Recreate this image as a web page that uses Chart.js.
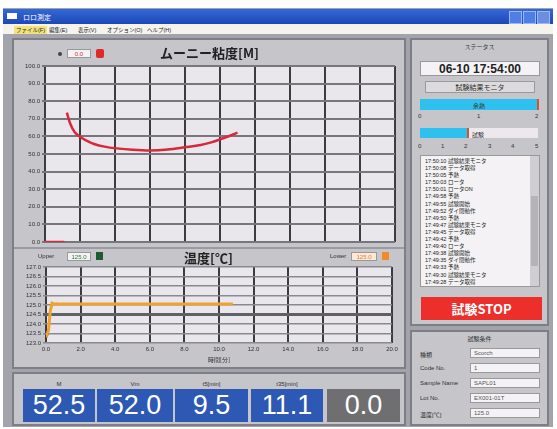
<!DOCTYPE html>
<html>
<head>
<meta charset="utf-8">
<script src="https://cdn.jsdelivr.net/npm/chart.js@4.4.1/dist/chart.umd.min.js"></script>
<style>
  body { margin: 0; width: 557px; height: 429px; background: #fff; position: relative; overflow: hidden;
         font-family: "Liberation Sans", "Noto Sans CJK JP", sans-serif; }
  .abs { position: absolute; }
  #win { left: 3px; top: 8px; width: 550px; height: 419px; background: #a3a4ab; }
  #titlebar { left: 0; top: 1px; width: 550px; height: 15px; background: linear-gradient(#3468d8, #1d48b6); }
  #titlebar .t { left: 20px; top: 3px; color: #fff; font-size: 7px; }
  #menubar { left: 0; top: 16px; width: 550px; height: 10px; background: #f4f3ee; font-size: 5.5px; color: #222; }
  #menubar span { position: absolute; top: 2px; }
  .panel { background: #c5c5ca; border: 2px solid #7d7e86; box-sizing: border-box; }
  .hdr { left: 0; width: 100%; text-align: center; font-size: 6px; color: #333; }
  .box { background: #f4f2f4; border: 1px solid #999; box-sizing: border-box; }
  .val { color: #fff; font-size: 27px; text-align: center; line-height: 33px; box-sizing: border-box; }
  .lbl { font-size: 6px; color: #333; text-align: center; }
  .ctitle { font-family: "Noto Sans CJK JP", sans-serif; font-size: 13px; font-weight: bold; color: #222; }
  #log div { height: 7.1px; font-size: 5.5px; line-height: 7px; color: #222; white-space: nowrap; }
</style>
</head>
<body>
<div id="win" class="abs">
  <div id="titlebar" class="abs">
    <div class="abs" style="left:4px;top:4px;width:10px;height:6px;background:#fff;"></div>
    <div class="t abs">ロロ測定</div>
    <div class="abs" style="left:506px;top:2px;width:11px;height:11px;background:#4d7fe6;border:1px solid #9bb7f0;"></div>
    <div class="abs" style="left:520px;top:2px;width:11px;height:11px;background:#4d7fe6;border:1px solid #9bb7f0;"></div>
    <div class="abs" style="left:534px;top:2px;width:11px;height:11px;background:#6d8ee0;border:1px solid #9bb7f0;"></div>
  </div>
  <div id="menubar" class="abs">
    <span style="left:11px;background:#f4e27a;padding:0 2px;">ファイル(F)</span>
    <span style="left:46px;">編集(E)</span>
    <span style="left:75px;">表示(V)</span>
    <span style="left:104px;">オプション(O)</span>
    <span style="left:144px;">ヘルプ(H)</span>
  </div>
</div>

<!-- left chart panel -->
<div class="abs panel" style="left:12px;top:38px;width:394px;height:331px;"></div>
<canvas id="mooneyChart" class="abs" width="392" height="210" style="left:14px;top:40px;"></canvas>
<canvas id="tempChart" class="abs" width="392" height="118" style="left:14px;top:250px;"></canvas>
<div class="abs" style="left:14px;top:247px;width:390px;height:2px;background:#9a9ba2;"></div>

<div class="abs ctitle" style="left:160px;top:43px;">ムーニー粘度[M]</div>
<div class="abs" style="left:58px;top:52px;width:4px;height:4px;border-radius:2px;background:#444;"></div>
<div class="abs box" style="left:67px;top:49px;width:24px;height:9px;font-size:6px;color:#e03030;text-align:center;line-height:8px;">0.0</div>
<div class="abs" style="left:96px;top:49px;width:8px;height:9px;background:#e02828;border-radius:2px;"></div>

<div class="abs ctitle" style="left:184px;top:248px;">温度[℃]</div>
<div class="abs lbl" style="left:38px;top:253px;">Upper</div>
<div class="abs box" style="left:67px;top:252px;width:24px;height:9px;font-size:6px;color:#2a7a3a;text-align:center;line-height:8px;">125.0</div>
<div class="abs" style="left:96px;top:252px;width:7px;height:8px;background:#1e5a32;"></div>
<div class="abs lbl" style="left:330px;top:253px;">Lower</div>
<div class="abs box" style="left:351px;top:252px;width:26px;height:9px;font-size:6px;color:#e08030;text-align:center;line-height:8px;background:#fbe8d8;">125.0</div>
<div class="abs" style="left:382px;top:252px;width:7px;height:8px;background:#f08a2a;"></div>

<!-- bottom result panel -->
<div class="abs panel" style="left:12px;top:372px;width:394px;height:54px;"></div>
<div class="abs lbl" style="left:23px;top:381px;width:72px;">M</div>
<div class="abs lbl" style="left:97px;top:381px;width:76px;">Vm</div>
<div class="abs lbl" style="left:175px;top:381px;width:73px;">t5[min]</div>
<div class="abs lbl" style="left:251px;top:381px;width:72px;">t35[min]</div>
<div class="abs val" style="left:23px;top:389px;width:72px;height:33px;background:#2d58b4;">52.5</div>
<div class="abs val" style="left:97px;top:389px;width:76px;height:33px;background:#2d58b4;">52.0</div>
<div class="abs val" style="left:175px;top:389px;width:73px;height:33px;background:#2d58b4;">9.5</div>
<div class="abs val" style="left:251px;top:389px;width:72px;height:33px;background:#2d58b4;">11.1</div>
<div class="abs val" style="left:327px;top:389px;width:73px;height:33px;background:#6f6f72;">0.0</div>

<!-- status panel -->
<div class="abs panel" style="left:410px;top:38px;width:139px;height:288px;"></div>
<div class="abs hdr" style="left:410px;width:139px;top:42px;">ステータス</div>
<div class="abs box" style="left:420px;top:61px;width:120px;height:15px;font-size:12px;font-weight:bold;text-align:center;line-height:14px;color:#222;">06-10 17:54:00</div>
<div class="abs box" style="left:425px;top:81px;width:110px;height:12px;font-size:7px;text-align:center;line-height:11px;color:#333;background:#dcdadc;">試験結果モニタ</div>
<div class="abs" style="left:420px;top:99px;width:118px;height:11px;background:#2ec0ef;"></div>
<div class="abs" style="left:537px;top:99px;width:2px;height:11px;background:#e05030;"></div>
<div class="abs lbl" style="left:420px;top:101px;width:118px;">余熱</div>
<div class="abs lbl" style="left:418px;top:113px;">0</div>
<div class="abs lbl" style="left:477px;top:113px;">1</div>
<div class="abs lbl" style="left:535px;top:113px;">2</div>
<div class="abs" style="left:420px;top:128px;width:118px;height:10px;background:#ece8ec;"></div>
<div class="abs" style="left:420px;top:128px;width:48px;height:10px;background:#2ec0ef;"></div>
<div class="abs" style="left:467px;top:128px;width:2px;height:10px;background:#e05030;"></div>
<div class="abs lbl" style="left:472px;top:130px;">試験</div>
<div class="abs lbl" style="left:418px;top:143px;">0</div>
<div class="abs lbl" style="left:441px;top:143px;">1</div>
<div class="abs lbl" style="left:464px;top:143px;">2</div>
<div class="abs lbl" style="left:488px;top:143px;">3</div>
<div class="abs lbl" style="left:511px;top:143px;">4</div>
<div class="abs lbl" style="left:535px;top:143px;">5</div>
<div id="log" class="abs box" style="left:420px;top:155px;width:120px;height:132px;padding:2px 0 0 4px;overflow:hidden;"></div>
<div class="abs" style="left:530px;top:156px;width:9px;height:130px;background:#d0ced2;"></div>
<div class="abs" style="left:531px;top:196px;width:7px;height:70px;background:#b4b3b8;"></div>
<div class="abs" style="left:421px;top:297px;width:121px;height:23px;background:#ec2f2a;color:#fff;font-size:13px;font-weight:bold;text-align:center;line-height:23px;font-family:'Noto Sans CJK JP',sans-serif;">試験STOP</div>

<!-- sample panel -->
<div class="abs panel" style="left:410px;top:330px;width:139px;height:96px;"></div>
<div class="abs hdr" style="left:410px;width:139px;top:334px;">試験条件</div>
<div id="cond"></div>

<script>
// ムーニー粘度 (top chart)
const mooneyTime = [0.0, 1.1, 1.1, 1.25, 1.45, 1.7, 2.0, 2.4, 2.8, 3.4, 4.1, 5.0, 6.0, 7.0, 8.0, 8.9, 9.5, 10.0, 10.5, 11.0];
const mooneyValue = [0.0, 0.0, null, 73.5, 67.0, 62.3, 59.8, 57.4, 55.7, 54.2, 53.2, 52.4, 52.0, 52.5, 53.8, 55.1, 56.6, 58.3, 60.1, 62.1];

// 温度 (bottom chart)
const tempTime = [0.0, 0.15, 0.25, 0.35, 0.5, 1.0, 2.0, 3.0, 4.0, 5.0, 6.0, 7.0, 8.0, 9.0, 10.0, 10.8];
const tempUpper = [123.2, 123.5, 124.4, 125.0, 125.1, 125.05, 125.05, 125.05, 125.05, 125.05, 125.05, 125.05, 125.05, 125.05, 125.05, 125.05];
const tempLower = [123.3, 123.7, 124.7, 125.1, 125.05, 125.05, 125.05, 125.05, 125.05, 125.05, 125.05, 125.05, 125.05, 125.05, 125.05, 125.05];

// tick labels
const timeTicks = [0, 2, 4, 6, 8, 10, 12, 14, 16, 18, 20];
const mooneyTicks = [0, 10, 20, 30, 40, 50, 60, 70, 80, 90, 100];
const tempTicks = [123.0, 123.5, 124.0, 124.5, 125.0, 125.5, 126.0, 126.5, 127.0];

// status log
const logLines = [
  '17:50:10 試験結果モニタ', '17:50:08 データ取得', '17:50:05 予熱', '17:50:03 ロータ',
  '17:50:01 ロータON', '17:49:58 予熱', '17:49:55 試験開始', '17:49:52 ダイ閉動作',
  '17:49:50 予熱', '17:49:47 試験結果モニタ', '17:49:45 データ取得', '17:49:42 予熱',
  '17:49:40 ロータ', '17:49:38 試験開始', '17:49:35 ダイ閉動作', '17:49:33 予熱',
  '17:49:30 試験結果モニタ', '17:49:28 データ取得'
];

const condLabels = ['種類', 'Code No.', 'Sample Name', 'Lot No.', '温度[℃]'];
const condValues = ['Scorch', '1', 'SAPL01', 'EX001-01T', '125.0'];

document.getElementById('log').innerHTML = logLines.map(s => `<div>${s}</div>`).join('');

const condRows = [353, 368, 383, 398, 413];
document.getElementById('cond').innerHTML = condLabels.map((l, i) =>
  `<div class="abs lbl" style="left:420px;top:${condRows[i] - 3}px;text-align:left;">${l}</div>` +
  `<div class="abs box" style="left:470px;top:${condRows[i] - 5}px;width:70px;height:10px;font-size:6px;line-height:9px;padding-left:3px;color:#555;">${condValues[i]}</div>`
).join('');

const plotBg = {
  id: 'plotBg',
  beforeDraw(chart) {
    const { ctx, chartArea: a } = chart;
    ctx.save();
    ctx.fillStyle = '#e9e6ec';
    ctx.fillRect(a.left, a.top, a.right - a.left, a.bottom - a.top);
    ctx.restore();
  }
};

const tickFont = { family: 'Liberation Sans', size: 6 };

function pts(xs, ys) {
  return xs.map((x, i) => ({ x, y: ys[i] }));
}

function xScale(showLabels) {
  return {
    type: 'linear', min: 0, max: 20,
    afterBuildTicks: s => { s.ticks = timeTicks.map(v => ({ value: v })); },
    afterFit: s => { s.height = showLabels ? 20 : 0; },
    grid: { color: '#3c3c40', lineWidth: 2, drawTicks: false },
    border: { display: false },
    ticks: { display: showLabels, autoSkip: false, maxRotation: 0, font: tickFont, color: '#333', padding: 3, callback: v => v.toFixed(1) },
    title: { display: showLabels, text: '時間[分]', font: { family: 'Noto Sans CJK JP', size: 6 }, color: '#333', padding: 0 }
  };
}

new Chart(document.getElementById('mooneyChart'), {
  type: 'line',
  data: {
    datasets: [{
      data: pts(mooneyTime, mooneyValue),
      borderColor: '#d8283a', borderWidth: 2.5, pointRadius: 0,
      tension: 0.35, spanGaps: false
    }]
  },
  options: {
    responsive: false, animation: false,
    layout: { padding: { top: 26, right: 11, bottom: 8, left: 0 } },
    plugins: { legend: { display: false }, tooltip: { enabled: false } },
    scales: {
      x: xScale(false),
      y: {
        min: 0, max: 100,
        afterBuildTicks: s => { s.ticks = mooneyTicks.map(v => ({ value: v })); },
        afterFit: s => { s.width = 31; },
        grid: { color: '#77767c', lineWidth: 2, tickLength: 3 },
        border: { display: false },
        ticks: { autoSkip: false, font: tickFont, color: '#333', padding: 2, callback: v => v.toFixed(1) }
      }
    }
  },
  plugins: [plotBg]
});

new Chart(document.getElementById('tempChart'), {
  type: 'line',
  data: {
    datasets: [{
      data: pts(tempTime, tempLower),
      borderColor: '#f0a22c', borderWidth: 3, pointRadius: 0
    }, {
      data: pts(tempTime, tempUpper),
      borderColor: '#44502c', borderWidth: 1, borderDash: [6, 4], pointRadius: 0
    }]
  },
  options: {
    responsive: false, animation: false,
    layout: { padding: { top: 17, right: 14, bottom: 5, left: 0 } },
    plugins: { legend: { display: false }, tooltip: { enabled: false } },
    scales: {
      x: xScale(true),
      y: {
        min: 123, max: 127,
        afterBuildTicks: s => { s.ticks = tempTicks.map(v => ({ value: v })); },
        afterFit: s => { s.width = 32; },
        grid: {
          color: c => (c.tick && c.tick.value === 124.5) ? '#606066' : '#8a898f',
          lineWidth: c => (c.tick && c.tick.value === 124.5) ? 3 : 1.5,
          tickLength: 3
        },
        border: { display: false },
        ticks: { autoSkip: false, font: tickFont, color: '#333', padding: 2, callback: v => v.toFixed(1) }
      }
    }
  },
  plugins: [plotBg]
});
</script>
</body>
</html>
